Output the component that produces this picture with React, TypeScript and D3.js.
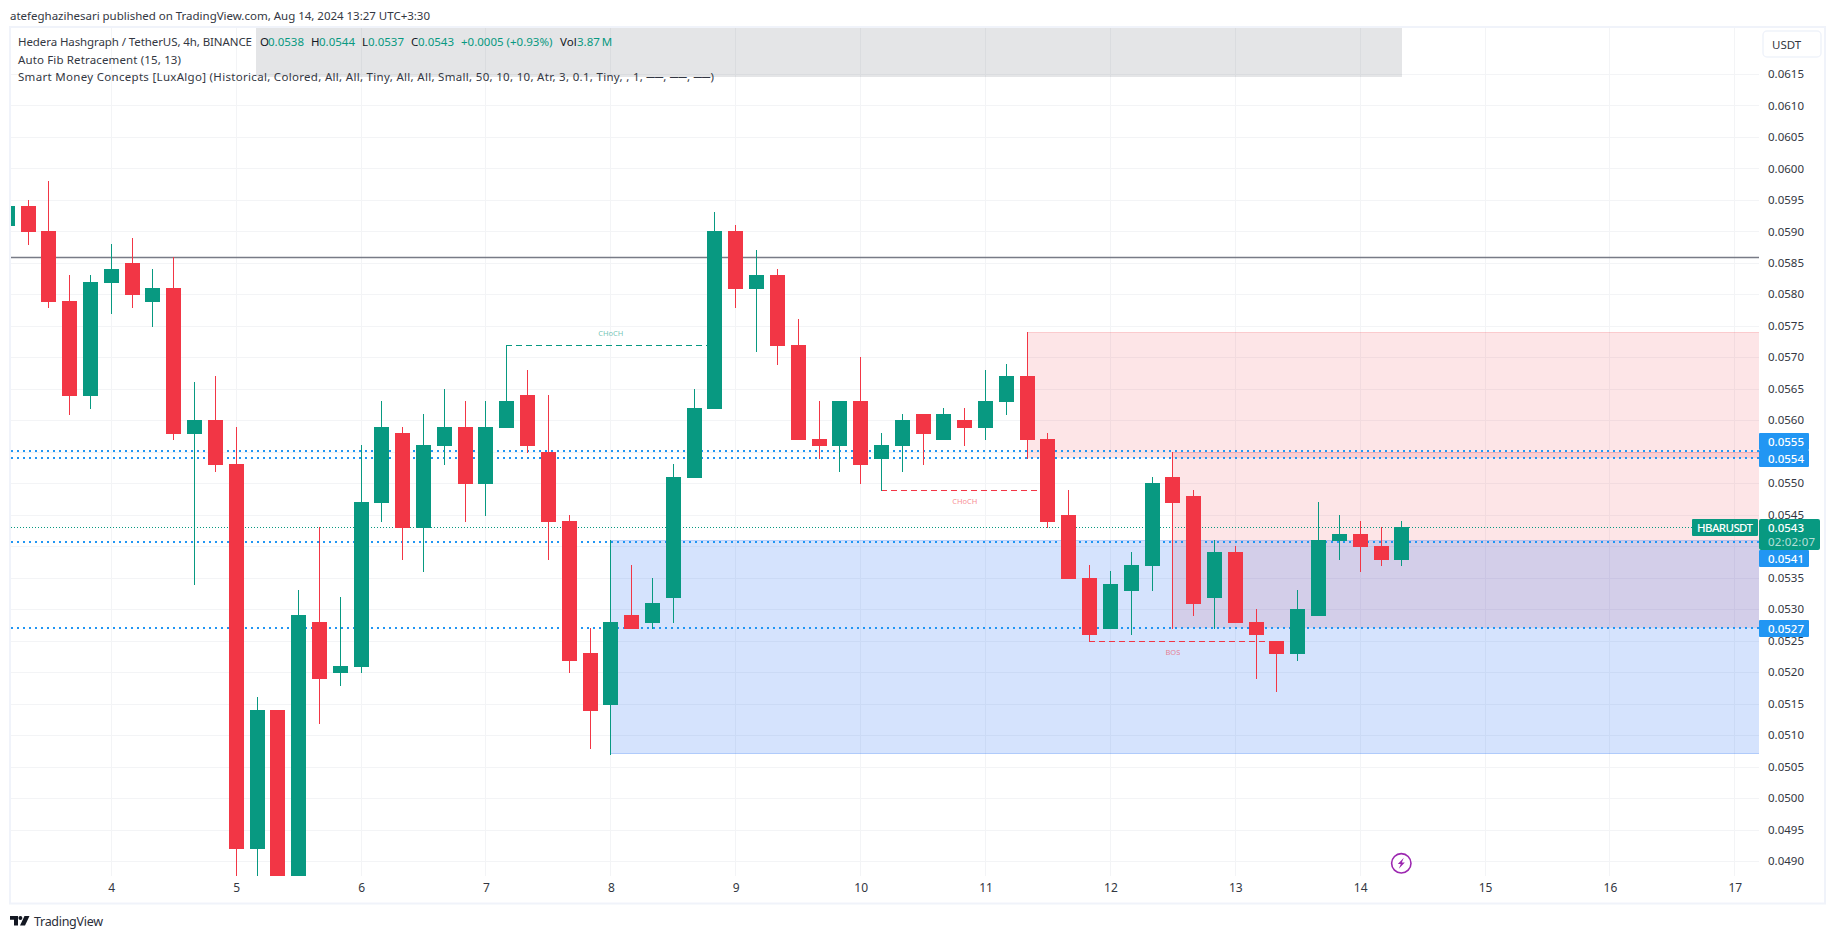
import React, { useRef, useEffect } from 'react';
import * as d3 from 'd3';

const WIDTH = 1835;
const HEIGHT = 939;
const FONT = '"Noto Sans", Roboto, sans-serif';
const UP = '#089981';
const DOWN = '#f23645';
const BLUE = '#2196f3';
const GRID = '#f3f4f6';
const FRAME = '#f0f3fa';

// plot area
const LEFT = 11;
const RIGHT = 1759;
const TOP = 28;
const BOTTOM = 876;

// candle index -5 is the first one on screen, index 0 sits on day 4
const firstBar = -5;
const opens = [
  0.0591, 0.0594, 0.059, 0.0579, 0.0564, 0.0582, 0.0585, 0.0579, 0.0581, 0.0558, 0.056, 0.0553, 0.0492, 0.0514,
  0.048, 0.0528, 0.052, 0.0521, 0.0547, 0.0558, 0.0543, 0.0556, 0.0559, 0.055, 0.0559, 0.0564, 0.0555, 0.0544,
  0.0523, 0.0515, 0.0529, 0.0528, 0.0532, 0.0551, 0.0562, 0.059, 0.0581, 0.0583, 0.0572, 0.0557, 0.0556, 0.0563,
  0.0554, 0.0556, 0.0561, 0.0557, 0.056, 0.0559, 0.0563, 0.0567, 0.0557, 0.0545, 0.0535, 0.0527, 0.0533, 0.0537,
  0.0551, 0.0548, 0.0532, 0.0539, 0.0528, 0.0525, 0.0523, 0.0529, 0.0541, 0.0542, 0.054, 0.0538,
];
const highs = [
  0.0595, 0.0595, 0.0598, 0.0583, 0.0583, 0.0588, 0.0589, 0.0584, 0.0586, 0.0566, 0.0567, 0.0559, 0.0516, 0.0514,
  0.0533, 0.0543, 0.0532, 0.0556, 0.0563, 0.0559, 0.0561, 0.0565, 0.0563, 0.0563, 0.0572, 0.0568, 0.0564, 0.0545,
  0.0527, 0.0541, 0.0537, 0.0535, 0.0553, 0.0565, 0.0593, 0.0591, 0.0587, 0.0584, 0.0576, 0.0563, 0.0563, 0.057,
  0.0558, 0.0561, 0.0561, 0.0562, 0.0562, 0.0568, 0.0569, 0.0574, 0.0558, 0.0549, 0.0537, 0.0536, 0.0539, 0.0551,
  0.0555, 0.0549, 0.0541, 0.054, 0.053, 0.0525, 0.0533, 0.0547, 0.0545, 0.0544, 0.0543, 0.0544,
];
const lows = [
  0.059, 0.0588, 0.0578, 0.0561, 0.0562, 0.0577, 0.0578, 0.0575, 0.0557, 0.0534, 0.0552, 0.0485, 0.0485, 0.0478,
  0.0479, 0.0512, 0.0518, 0.052, 0.0544, 0.0538, 0.0536, 0.0553, 0.0544, 0.0545, 0.0559, 0.0555, 0.0538, 0.052,
  0.0508, 0.0507, 0.0527, 0.0527, 0.0528, 0.0551, 0.0562, 0.0578, 0.0571, 0.0569, 0.0557, 0.0554, 0.0552, 0.055,
  0.0549, 0.0552, 0.0553, 0.0557, 0.0556, 0.0557, 0.0561, 0.0554, 0.0543, 0.0535, 0.0525, 0.0527, 0.0526, 0.0533,
  0.0527, 0.0529, 0.0527, 0.0528, 0.0519, 0.0517, 0.0522, 0.0529, 0.0538, 0.0536, 0.0537, 0.0537,
];
const closes = [
  0.0594, 0.059, 0.0579, 0.0564, 0.0582, 0.0584, 0.058, 0.0581, 0.0558, 0.056, 0.0553, 0.0492, 0.0514, 0.048,
  0.0529, 0.0519, 0.0521, 0.0547, 0.0559, 0.0543, 0.0556, 0.0559, 0.055, 0.0559, 0.0563, 0.0556, 0.0544, 0.0522,
  0.0514, 0.0528, 0.0527, 0.0531, 0.0551, 0.0562, 0.059, 0.0581, 0.0583, 0.0572, 0.0557, 0.0556, 0.0563, 0.0553,
  0.0556, 0.056, 0.0558, 0.0561, 0.0559, 0.0563, 0.0567, 0.0557, 0.0544, 0.0535, 0.0526, 0.0534, 0.0537, 0.055,
  0.0547, 0.0531, 0.0539, 0.0528, 0.0526, 0.0523, 0.053, 0.0541, 0.0542, 0.054, 0.0538, 0.0543,
];

const dayLabels = [4, 5, 6, 7, 8, 9, 10, 11, 12, 13, 14, 15, 16, 17];
const priceTicks = d3.range(98, 124).map(n => n * 0.0005);
const hiddenTicks = ['0.0555', '0.0540'];

const fibLevel = 0.05858;
const lastPrice = 0.0543;
const dottedLevels = [0.05551, 0.0554, 0.05407, 0.0527];
const levelLabels = ['0.0555', '0.0554', '0.0541', '0.0527'];
const levelLabelCenters = [441.5, 458.5, 558.5, 628.5];

const redZones = [
  { bar: 44, top: 0.0574, bottom: 0.0554 },
  { bar: 51, top: 0.0555, bottom: 0.0527 },
];
const blueZones = [{ bar: 24, top: 0.0541, bottom: 0.0507 }];

const structures = [
  { from: 19, to: 29, labelBar: 24, price: 0.0572, color: UP, text: 'CHoCH', dy: -12 },
  { from: 37, to: 45, labelBar: 41, price: 0.0549, color: DOWN, text: 'CHoCH', dy: 11 },
  { from: 47, to: 56, labelBar: 51, price: 0.0525, color: DOWN, text: 'BOS', dy: 11 },
];

const legendLines = [
  { y: 41.5, text: 'Hedera Hashgraph / TetherUS, 4h, BINANCE', len: 234 },
  { y: 59, text: 'Auto Fib Retracement (15, 13)', len: 163 },
  {
    y: 76,
    text: 'Smart Money Concepts [LuxAlgo] (Historical, Colored, All, All, Tiny, All, All, Small, 50, 10, 10, Atr, 3, 0.1, Tiny, , 1, ──, ──, ──)',
    len: 696,
  },
];
const legendValues = [
  { x: 260, text: 'O', color: '#131722' },
  { x: 268, text: '0.0538', color: UP },
  { x: 311, text: 'H', color: '#131722' },
  { x: 319, text: '0.0544', color: UP },
  { x: 362, text: 'L', color: '#131722' },
  { x: 368, text: '0.0537', color: UP },
  { x: 411, text: 'C', color: '#131722' },
  { x: 418, text: '0.0543', color: UP },
  { x: 461, text: '+0.0005 (+0.93%)', color: UP },
  { x: 560, text: 'Vol', color: '#131722' },
  { x: 577, text: '3.87\u2009M', color: UP },
];

const x = d3.scaleLinear().domain([0, 60]).range([111.3, 1360.2]);
const y = d3.scaleLinear().domain([0.06, 0.049]).range([168.35, 861.07]);
const barX = (i: number) => Math.floor(x(i));
const rowY = (p: number) => Math.round(y(p));

export default function App() {
  const ref = useRef<SVGSVGElement>(null);

  useEffect(() => {
    const svg = d3.select(ref.current);
    svg.selectAll('*').remove();

    svg.append('clipPath').attr('id', 'plot').append('rect')
      .attr('x', LEFT).attr('y', TOP).attr('width', RIGHT - LEFT).attr('height', BOTTOM - TOP);

    // frame
    svg.append('rect').attr('x', 10).attr('y', 27).attr('width', 1815).attr('height', 876.5)
      .attr('fill', 'none').attr('stroke', FRAME).attr('stroke-width', 2);

    // grid
    const grid = svg.append('g').attr('stroke', GRID).attr('stroke-width', 1);
    grid.selectAll('line.v').data(dayLabels).join('line').attr('class', 'v')
      .attr('x1', d => barX((d - 4) * 6) + 0.5).attr('x2', d => barX((d - 4) * 6) + 0.5)
      .attr('y1', TOP).attr('y2', BOTTOM);
    grid.selectAll('line.h').data(priceTicks).join('line').attr('class', 'h')
      .attr('x1', LEFT).attr('x2', RIGHT)
      .attr('y1', d => rowY(d) + 0.5).attr('y2', d => rowY(d) + 0.5);

    const plot = svg.append('g').attr('clip-path', 'url(#plot)');

    // legend backdrop
    plot.append('rect').attr('x', 256).attr('y', TOP).attr('width', 1146).attr('height', 49)
      .attr('fill', '#787b86').attr('fill-opacity', 0.2);

    // order blocks
    plot.selectAll('rect.red').data(redZones).join('rect').attr('class', 'red')
      .attr('x', d => barX(d.bar)).attr('width', d => RIGHT - barX(d.bar))
      .attr('y', d => rowY(d.top)).attr('height', d => rowY(d.bottom) - rowY(d.top))
      .attr('fill', DOWN).attr('fill-opacity', 0.13);
    plot.selectAll('rect.blue').data(blueZones).join('rect').attr('class', 'blue')
      .attr('x', d => barX(d.bar)).attr('width', d => RIGHT - barX(d.bar))
      .attr('y', d => rowY(d.top)).attr('height', d => rowY(d.bottom) - rowY(d.top))
      .attr('fill', '#1f6cf5').attr('fill-opacity', 0.19);
    plot.selectAll('line.zoneEdge').data([...redZones, ...blueZones]).join('line').attr('class', 'zoneEdge')
      .attr('x1', d => barX(d.bar)).attr('x2', RIGHT)
      .attr('y1', d => rowY(d.top) + 0.5).attr('y2', d => rowY(d.top) + 0.5)
      .attr('stroke', (d, i) => (i < 2 ? DOWN : '#1f6cf5')).attr('stroke-opacity', 0.15);
    plot.append('line')
      .attr('x1', barX(blueZones[0].bar)).attr('x2', RIGHT)
      .attr('y1', rowY(blueZones[0].bottom) - 0.5).attr('y2', rowY(blueZones[0].bottom) - 0.5)
      .attr('stroke', '#1f6cf5').attr('stroke-opacity', 0.2);

    // fib line, last price, dotted levels
    plot.append('line').attr('x1', LEFT).attr('x2', RIGHT)
      .attr('y1', Math.floor(y(fibLevel)) + 0.5).attr('y2', Math.floor(y(fibLevel)) + 0.5)
      .attr('stroke', '#787b86').attr('stroke-width', 1.3);
    plot.append('line').attr('x1', LEFT).attr('x2', 1692)
      .attr('y1', rowY(lastPrice) + 0.5).attr('y2', rowY(lastPrice) + 0.5)
      .attr('stroke', UP).attr('stroke-dasharray', '1 2');
    plot.selectAll('line.level').data(dottedLevels).join('line').attr('class', 'level')
      .attr('x1', LEFT).attr('x2', RIGHT)
      .attr('y1', d => rowY(d)).attr('y2', d => rowY(d))
      .attr('stroke', BLUE).attr('stroke-width', 2).attr('stroke-dasharray', '2 4');

    // market structure lines
    const st = plot.selectAll('g.structure').data(structures).join('g').attr('class', 'structure');
    st.append('line')
      .attr('x1', d => barX(d.from)).attr('x2', d => barX(d.to))
      .attr('y1', d => rowY(d.price) + 0.5).attr('y2', d => rowY(d.price) + 0.5)
      .attr('stroke', d => d.color).attr('stroke-dasharray', '6 4');
    st.append('text')
      .attr('x', d => x(d.labelBar)).attr('y', d => y(d.price) + d.dy)
      .attr('text-anchor', 'middle').attr('dominant-baseline', 'central')
      .attr('font-family', FONT).attr('font-size', 7.5).attr('fill', d => d.color).attr('fill-opacity', 0.6)
      .text(d => d.text);

    // candles
    const candles = opens.map((o, i) => ({ i: i + firstBar, o, h: highs[i], l: lows[i], c: closes[i] }));
    const bars = plot.selectAll('g.candle').data(candles).join('g').attr('class', 'candle')
      .attr('fill', d => (d.c >= d.o ? UP : DOWN));
    bars.append('rect')
      .attr('x', d => barX(d.i)).attr('width', 1)
      .attr('y', d => rowY(d.h)).attr('height', d => rowY(d.l) + 1 - rowY(d.h));
    bars.append('rect')
      .attr('x', d => barX(d.i) - 7).attr('width', 15)
      .attr('y', d => rowY(Math.max(d.o, d.c)))
      .attr('height', d => rowY(Math.min(d.o, d.c)) + 1 - rowY(Math.max(d.o, d.c)));

    // price axis
    const yAxis = d3.axisRight(y).tickValues(priceTicks).tickFormat(d3.format('.4f')).tickSize(0).tickPadding(9);
    const yG = svg.append('g').attr('transform', `translate(${RIGHT},0)`).call(yAxis);
    yG.select('.domain').remove();
    yG.selectAll('text')
      .attr('font-family', FONT).attr('font-size', 11.5).attr('fill', '#333742')
      .style('display', (d: any) => (hiddenTicks.includes(d3.format('.4f')(d)) ? 'none' : null));

    // time axis
    const xAxis = d3.axisBottom(d3.scaleLinear().domain([0, 13]).range([x(0), x(78)]))
      .tickValues(d3.range(14)).tickFormat((d: any) => String(dayLabels[d])).tickSize(0).tickPadding(7);
    const xG = svg.append('g').attr('transform', `translate(0,${BOTTOM})`).call(xAxis);
    xG.select('.domain').remove();
    xG.selectAll('text').attr('font-family', FONT).attr('font-size', 12).attr('fill', '#333742');

    // price labels
    const lab = svg.selectAll('g.levelLabel').data(levelLabels).join('g').attr('class', 'levelLabel');
    lab.append('rect').attr('x', RIGHT).attr('width', 50).attr('y', (d, i) => levelLabelCenters[i] - 8.5).attr('height', 17)
      .attr('fill', BLUE).attr('rx', 1);
    lab.append('text').attr('x', 1768).attr('y', (d, i) => levelLabelCenters[i]).attr('dominant-baseline', 'central')
      .attr('font-family', FONT).attr('font-size', 11.5).attr('font-weight', 500).attr('fill', '#fff').text(d => d);

    svg.append('rect').attr('x', RIGHT).attr('y', 519).attr('width', 61).attr('height', 31).attr('fill', UP).attr('rx', 2);
    svg.append('text').attr('x', 1768).attr('y', 527.5).attr('dominant-baseline', 'central')
      .attr('font-family', FONT).attr('font-size', 11.5).attr('font-weight', 500).attr('fill', '#fff').text(d3.format('.4f')(lastPrice));
    svg.append('text').attr('x', 1768).attr('y', 541.5).attr('dominant-baseline', 'central')
      .attr('font-family', FONT).attr('font-size', 11.5).attr('fill', '#fff').attr('fill-opacity', 0.7)
      .attr('textLength', 47).text('02:02:07');
    svg.append('rect').attr('x', 1692).attr('y', 519).attr('width', 66).attr('height', 17).attr('fill', UP).attr('rx', 1);
    svg.append('text').attr('x', 1697).attr('y', 527.5).attr('dominant-baseline', 'central')
      .attr('font-family', FONT).attr('font-size', 11.5).attr('font-weight', 500).attr('fill', '#fff')
      .attr('textLength', 56).text('HBARUSDT');

    // currency box
    svg.append('rect').attr('x', 1763).attr('y', 31).attr('width', 58).attr('height', 26).attr('rx', 4)
      .attr('fill', '#fff').attr('stroke', FRAME).attr('stroke-width', 1.5);
    svg.append('text').attr('x', 1772).attr('y', 44.5).attr('dominant-baseline', 'central')
      .attr('font-family', FONT).attr('font-size', 11.5).attr('fill', '#333742').text('USDT');

    // header and legend
    svg.append('text').attr('x', 10).attr('y', 15).attr('dominant-baseline', 'central')
      .attr('font-family', FONT).attr('font-size', 11.5).attr('fill', '#333742')
      .attr('textLength', 420)
      .text('atefeghazihesari published on TradingView.com, Aug 14, 2024 13:27 UTC+3:30');
    svg.selectAll('text.legend').data(legendLines).join('text').attr('class', 'legend')
      .attr('x', 18).attr('y', d => d.y).attr('dominant-baseline', 'central')
      .attr('font-family', FONT).attr('font-size', 11.5).attr('fill', '#333742')
      .attr('textLength', d => d.len)
      .text(d => d.text);
    svg.selectAll('text.value').data(legendValues).join('text').attr('class', 'value')
      .attr('x', d => d.x).attr('y', legendLines[0].y).attr('dominant-baseline', 'central')
      .attr('font-family', FONT).attr('font-size', 11.5).attr('fill', d => d.color)
      .text(d => d.text);

    // lightning badge
    const badge = svg.append('g').attr('transform', 'translate(1401.3,863.3)');
    badge.append('circle').attr('r', 9.7).attr('fill', '#fff').attr('stroke', '#9c27b0').attr('stroke-width', 1.6);
    badge.append('path').attr('d', 'M2.5,-5.5 L-3.5,0.8 L-0.5,0.8 L-2.5,5.5 L3.5,-0.8 L0.5,-0.8 Z').attr('fill', '#9c27b0');

    // footer logo
    const logo = svg.append('g').attr('transform', 'translate(10,916)').attr('fill', '#131722');
    logo.append('path').attr('d', 'M0,0 H8 V9.5 H4 V3.8 H0 Z');
    logo.append('circle').attr('cx', 10.4).attr('cy', 2).attr('r', 2);
    logo.append('path').attr('d', 'M14.5,0 H19.5 L15,9.5 H10 Z');
    svg.append('text').attr('x', 34).attr('y', 921.5).attr('dominant-baseline', 'central')
      .attr('font-family', FONT).attr('font-size', 12.5).attr('fill', '#2a2e39')
      .attr('textLength', 69).text('TradingView');
  }, []);

  return (
    <svg
      ref={ref}
      width={WIDTH}
      height={HEIGHT}
      style={{ position: 'absolute', left: 0, top: 0, display: 'block', background: '#fff' }}
    />
  );
}
